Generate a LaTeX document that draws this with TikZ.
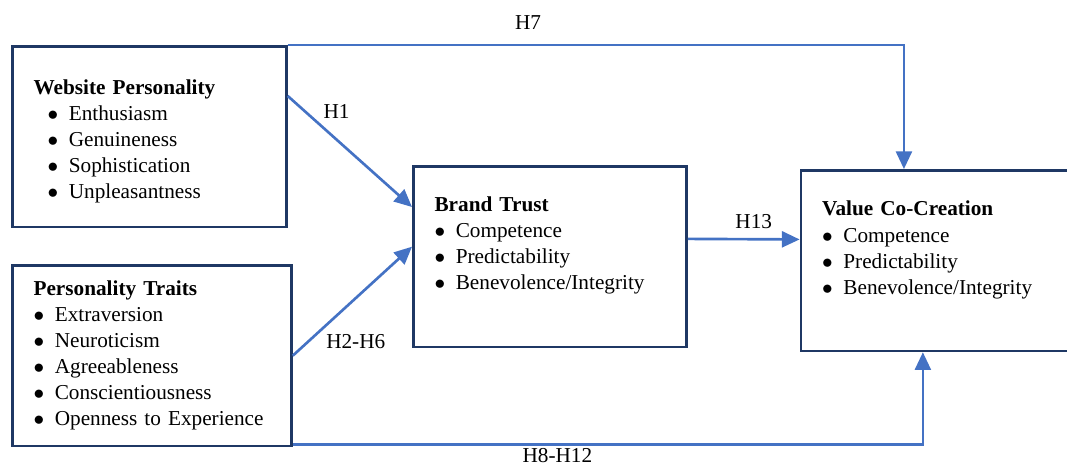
\documentclass[tikz,border=0pt]{standalone}
\usepackage{fontspec}
\setmainfont{Liberation Serif}
\usetikzlibrary{positioning,arrows.meta}
\definecolor{boxnavy}{HTML}{1F3864}
\definecolor{linkblue}{HTML}{4472C4}
\newcommand{\itm}{\makebox[1em][l]{$\bullet$}}
\newcommand{\wpitm}{\hspace*{0.66em}\itm}

\begin{document}
\begin{tikzpicture}[x=0.565pt, y=-0.565pt,
    box/.style={draw=boxnavy, line width=1.5pt, align=left, inner xsep=12pt,
        minimum height=102pt, anchor=north west, font=\fontsize{12}{14.7}\selectfont},
    link/.style={draw=linkblue, line width=1.5pt, -{Triangle[length=10pt,width=9pt]}},
    hyp/.style={font=\fontsize{12}{14}\selectfont, inner sep=2pt}]
    \useasboundingbox (0,0) rectangle (1067,468);
    % constructs
    \node (wp) [box, text width=130.8pt] at (11,45) {\rule{0pt}{14pt}\textbf{Website Personality}\\
        \wpitm Enthusiasm\\ \wpitm Genuineness\\ \wpitm Sophistication\\ \wpitm Unpleasantness};
    \node (pt) [box, text width=133.7pt, below=20.3pt of wp.south west, anchor=north west] {\textbf{Personality Traits}\\
        \itm Extraversion\\ \itm Neuroticism\\ \itm Agreeableness\\ \itm Conscientiousness\\ \itm Openness to Experience};
    \node (bt) [box, text width=130.3pt] at (412,165) {\textbf{Brand Trust}\\
        \itm Competence\\ \itm Predictability\\ \itm Benevolence/Integrity\\ \mbox{}};
    \node (vcc) [box, text width=134.2pt, right=63.2pt of bt.north east, anchor=north west, yshift=-2.3pt] {\textbf{Value Co-Creation}\\
        \itm Competence\\ \itm Predictability\\ \itm Benevolence/Integrity\\ \mbox{}};
    % hypotheses
    \draw[link] (wp.north east) -| node[hyp, pos=0.195, above=6pt] {H7} ([xshift=-20.9pt]vcc.north);
    \draw[link] ([yshift=23pt]wp.east) -- node[hyp, pos=0.25, above right=0pt] {H1} ([yshift=28pt]bt.west);
    \draw[link] (pt.east) -- node[hyp, pos=0.24, anchor=north west] {H2-H6} ([yshift=5.6pt]bt.west);
    \draw[link] ([yshift=10pt]bt.east) -- node[hyp, pos=0.59, above=3pt] {H13} ([yshift=12pt]vcc.west);
    \draw[link] ([yshift=1.5pt]pt.south east) -| node[hyp, inner sep=0pt, pos=0.21, below=1.5pt] {H8-H12} ([xshift=-10.2pt]vcc.south);
\end{tikzpicture}
\end{document}
